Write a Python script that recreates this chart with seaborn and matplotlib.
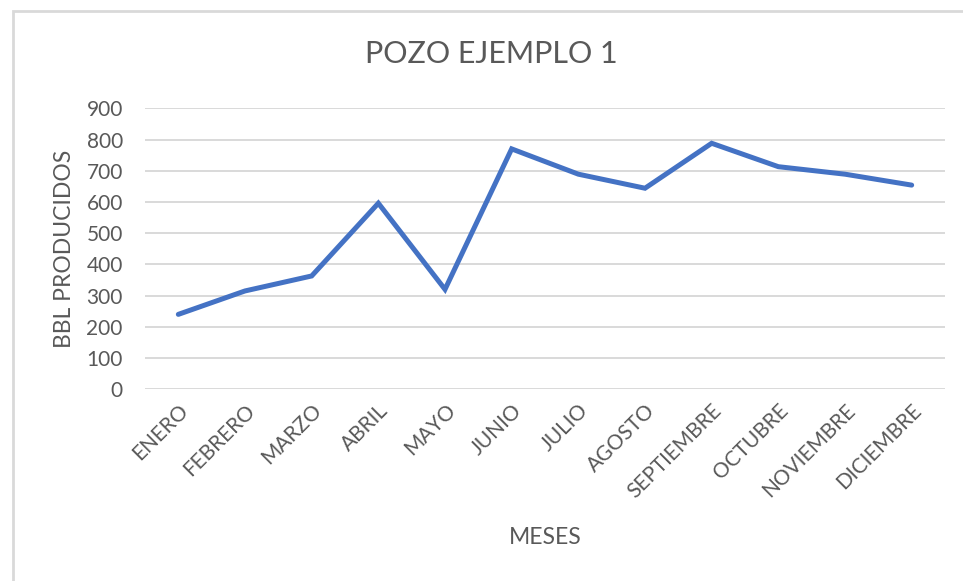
import matplotlib
matplotlib.use("Agg")
import matplotlib.pyplot as plt
from matplotlib.patches import Rectangle
import seaborn as sns
import pandas as pd

meses = ["ENERO", "FEBRERO", "MARZO", "ABRIL", "MAYO", "JUNIO", "JULIO",
         "AGOSTO", "SEPTIEMBRE", "OCTUBRE", "NOVIEMBRE", "DICIEMBRE"]
bbl = [240, 315, 363, 596, 320, 770, 689, 644, 788, 713, 689, 654]
y_ticks = [0, 100, 200, 300, 400, 500, 600, 700, 800, 900]

titulo = "POZO EJEMPLO 1"
etiqueta_x = "MESES"
etiqueta_y = "BBL PRODUCIDOS"

sns.set_theme(style="white")
plt.rcParams["font.family"] = ["Lato", "DejaVu Sans"]

texto = "#595959"
rejilla = "#D9D9D9"
azul = "#4472C4"

W, H = 963, 581
fig = plt.figure(figsize=(W / 100, H / 100), dpi=100)
ax = fig.add_axes([145 / W, 1 - 389.3 / H, 800 / W, (389.3 - 108.3) / H])

df = pd.DataFrame({"mes": meses, "bbl": bbl})
sns.lineplot(data=df, x="mes", y="bbl", sort=False, ax=ax,
             color=azul, linewidth=3.6, solid_capstyle="round",
             solid_joinstyle="miter")

ax.set_xlim(-0.5, len(meses) - 0.5)
ax.set_ylim(0, 900)
ax.set_yticks(y_ticks)
ax.set_yticklabels([str(v) for v in y_ticks])
ax.yaxis.grid(True, color=rejilla, linewidth=1.4)
ax.xaxis.grid(False)
ax.set_axisbelow(True)
for s in ax.spines.values():
    s.set_visible(False)

ax.tick_params(axis="y", length=0, pad=16, labelsize=15, labelcolor=texto)
ax.tick_params(axis="x", length=0, pad=8, labelsize=15, labelcolor=texto)
ax.set_xticks(range(len(meses)))
ax.set_xticklabels(meses, rotation=45, ha="right", rotation_mode="anchor")

xl = ax.set_xlabel(etiqueta_x, fontsize=16.5, color=texto)
ax.xaxis.set_label_coords(0.5, (389.3 - 537) / 281)
xl.set_va("center")
yl = ax.set_ylabel(etiqueta_y, fontsize=16.5, color=texto)
ax.yaxis.set_label_coords((64 - 145) / 800, 0.5)
yl.set_va("center")

fig.text(491 / W, 1 - 54 / H, titulo, ha="center", va="center",
         fontsize=22, color=texto)

# chart frame (left and top edges)
fig.patches.append(Rectangle((12.5 / W, -0.2), 1.5, 1 - 10.5 / H + 0.2,
                             transform=fig.transFigure, fill=False,
                             edgecolor=rejilla, linewidth=2.0))

fig.savefig("out.png", dpi=100, facecolor="white")
